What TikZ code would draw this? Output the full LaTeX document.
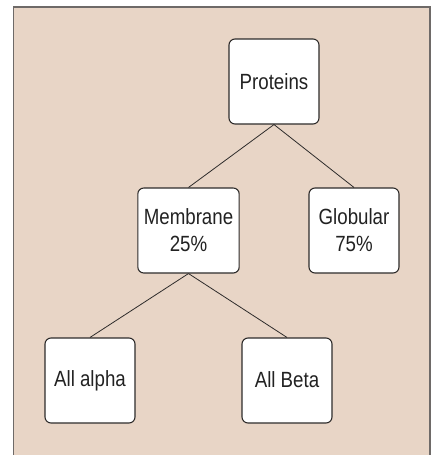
\documentclass[tikz,border=0pt]{standalone}
\usepackage{fontspec}
\setmainfont{Liberation Sans}[FakeStretch=0.85]
\usepackage{tikz}
\definecolor{panelbg}{HTML}{E8D5C6}
\definecolor{framegray}{HTML}{6E6A68}
\definecolor{boxline}{HTML}{2E2C2B}
\definecolor{labeltext}{HTML}{222222}

\begin{document}
\begin{tikzpicture}[x=1pt, y=-1pt,
	every node/.style={font=\fontsize{22}{27}\selectfont, text=labeltext},
	catbox/.style={draw=boxline, line width=1.1pt, fill=white, rounded corners=6pt,
		minimum width=90pt, minimum height=85pt, inner xsep=6pt, align=center},
	link/.style={draw=boxline, line width=0.8pt}]
	\useasboundingbox (0,0) rectangle (433,455);
	\fill[panelbg] (13.5,7) rectangle (430,455);
	\draw[framegray, line width=1.2pt] (13.5,455) -- (13.5,7) -- (430,7) -- (430,455);
	\node[catbox] (proteins) at (274,81.5) {Proteins};
	\node[catbox] (membrane) at (188.5,230.5) {Membrane\\25\%};
	\node[catbox] (globular) at (354,230.5) {Globular\\75\%};
	\node[catbox] (alpha) at (90,380.5) {\raisebox{-3pt}{All alpha}};
	\node[catbox] (beta) at (287,380.5) {\raisebox{2pt}{All Beta}};
	\draw[link] (proteins.south) -- (membrane.north);
	\draw[link] (proteins.south) -- (globular.north);
	\draw[link] (membrane.south) -- (alpha.north);
	\draw[link] (membrane.south) -- (beta.north);
\end{tikzpicture}
\end{document}
